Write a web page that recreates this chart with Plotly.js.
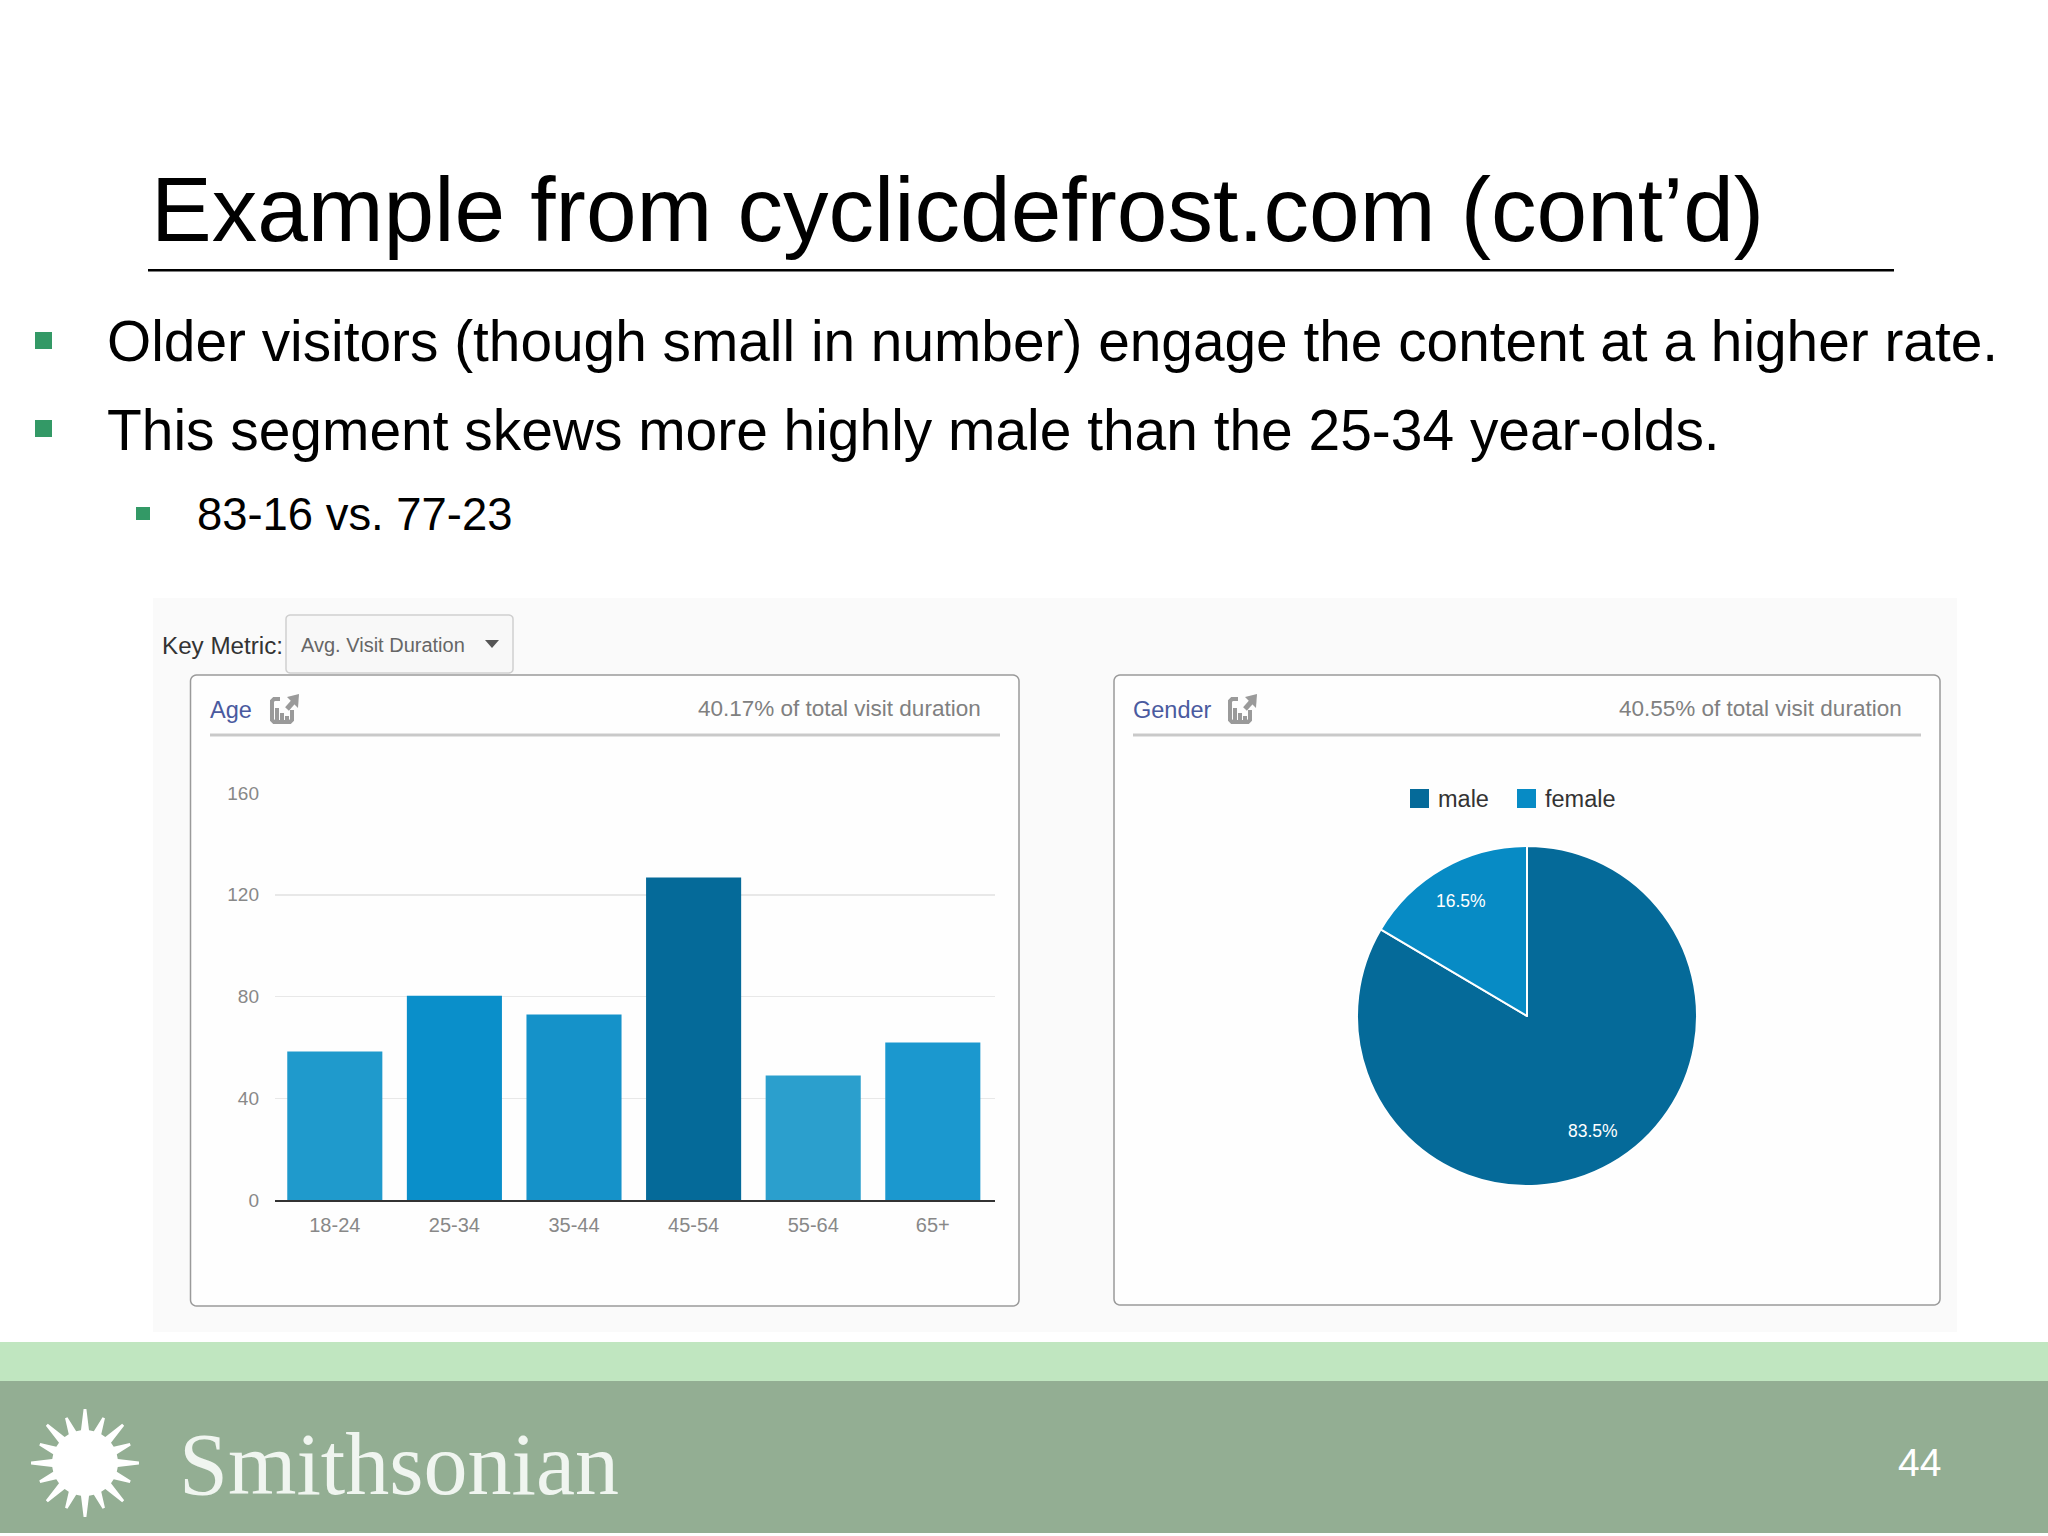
<!DOCTYPE html>
<html><head><meta charset="utf-8">
<script src="https://cdn.plot.ly/plotly-3.0.1.min.js"></script>
<style>html,body{margin:0;padding:0;background:#fff}#c{width:2048px;height:1536px}</style>
</head><body><div id="c"></div>
<script>
const ageCategories = ["18-24","25-34","35-44","45-54","55-64","65+"];
const ageValues = [58.4,80.3,73,126.8,49,62];
const ageColors = ["#1f9acc","#0a8fca","#1592c9","#056a99","#2b9fcd","#1b98cf"];
const ageTicks = [0,40,80,120,160];
const genderLabels = ["male","female"];
const genderValues = [83.5,16.5];
const genderColors = ["#056a99","#078bc5"];

const W=2048,H=1536;
const SANS='"Liberation Sans", Arial, sans-serif';
const px=x=>x/W, py=y=>1-y/H;
function txt(text,x,y,size,color,anchor,font,va){
  return {text,x:px(x),y:py(y),xref:'paper',yref:'paper',xanchor:anchor||'left',yanchor:va||'middle',
    showarrow:false,font:{family:font||SANS,size,color},align:anchor||'left',borderpad:0,borderwidth:0,xshift:0,yshift:0};
}
function rect(x0,y0,x1,y1,fill,line,lw){
  return {type:'rect',xref:'paper',yref:'paper',layer:'below',x0:px(x0),x1:px(x1),y0:py(y0),y1:py(y1),
    fillcolor:fill,line:{color:line||fill,width:lw===undefined?0:lw}};
}
function path(d,fill,line,lw){
  return {type:'path',xref:'paper',yref:'paper',layer:'below',path:d,fillcolor:fill,line:{color:line||fill,width:lw||0}};
}
function P(pts,close){
  return pts.map((p,i)=>(i?'L':'M')+px(p[0]).toFixed(5)+','+py(p[1]).toFixed(5)).join(' ')+(close?' Z':'');
}
function roundRect(x0,y0,x1,y1,r,fill,line,lw){
  const pts=[];
  const corner=(cx,cy,a0)=>{for(let k=0;k<=6;k++){const a=(a0+k*15)*Math.PI/180;pts.push([cx+r*Math.cos(a),cy+r*Math.sin(a)]);}};
  corner(x1-r,y0+r,-90);corner(x1-r,y1-r,0);corner(x0+r,y1-r,90);corner(x0+r,y0+r,180);
  return path(P(pts,true),fill,line,lw);
}
function sun(cx,cy){
  const spikes=16,pts=[],step=360/spikes,core=33,d=Math.PI/180;
  for(let i=0;i<spikes;i++){
    const a=i*step,tip=(i%2===0)?54:49;
    pts.push([cx+core*Math.cos((a-7)*d),cy+core*Math.sin((a-7)*d)]);
    pts.push([cx+tip*Math.cos((a-1.5)*d),cy+tip*Math.sin((a-1.5)*d)]);
    pts.push([cx+tip*Math.cos((a+1.5)*d),cy+tip*Math.sin((a+1.5)*d)]);
    pts.push([cx+core*Math.cos((a+7)*d),cy+core*Math.sin((a+7)*d)]);
  }
  return path(P(pts,true),'#ffffff');
}
function icon(x,y){
  const c='#9a9a9a',n='rgba(0,0,0,0)';
  return [
    path(P([[x+20,y+14],[x+14,y+14],[x+12,y+16],[x+12,y+35],[x+14,y+37],[x+30,y+37],[x+32,y+35],[x+32,y+25]]),n,c,4),
    path(P([[x+17,y+35],[x+17,y+23]]),n,c,4),
    path(P([[x+22,y+35],[x+22,y+28]]),n,c,4),
    path(P([[x+27,y+35],[x+27,y+31]]),n,c,4),
    path(P([[x+27,y+24],[x+34,y+16]]),n,c,5),
    path(P([[x+27,y+12],[x+39,y+9],[x+38,y+23]],true),c)
  ];
}

const pieCx=1527,pieCy=1016,pieR=170;
const total=genderValues.reduce((a,b)=>a+b,0);
let acc=0;
const pieLabels=genderValues.map(v=>{
  const mid=(acc+v/2)/total*2*Math.PI; acc+=v;
  return txt(v+'%',pieCx+0.78*pieR*Math.sin(mid),pieCy-0.78*pieR*Math.cos(mid),17.5,'#ffffff','center');
});
const legendSquareX=[1410,1517], legendTextX=[1438,1545];
const legendShapes=genderLabels.map((l,i)=>rect(legendSquareX[i],789,legendSquareX[i]+19,808,genderColors[i]));
const legendText=genderLabels.map((l,i)=>txt(l,legendTextX[i],799,23.5,'#333333'));

const shapes=[
  rect(153,598,1957,1332,'#fafafa'),
  roundRect(190.5,675,1019,1306,6,'#fefefe','#9a9a9a',1.5),
  roundRect(1114,675,1940,1305,6,'#fefefe','#9a9a9a',1.5),
  rect(210,733.5,1000,736.5,'#c9c9c9'),
  rect(1133,733.5,1921,736.5,'#c9c9c9'),
  roundRect(286,615,513,673,4,'#f8f8f8','#cfcfcf',1.5),
  path(P([[485,640],[499,640],[492,648]],true),'#555555'),
  ...icon(260,685),
  ...icon(1218,685),
  ...legendShapes,
  rect(0,1342,W,1381,'#c0e6c0'),
  rect(0,1381,W,1533,'#93ae93'),
  sun(85,1463),
  rect(148,269,1894,271.5,'#000000'),
  rect(35,332,52,349,'#339966'),
  rect(35,420,52,437,'#339966'),
  rect(136,507,150,520,'#339966')
];

const annotations=[
  txt('Example from cyclicdefrost.com (cont’d)',151,209,91,'#000000'),
  txt('Older visitors (though small in number) engage the content at a higher rate.',107,341,56.8,'#000000'),
  txt('This segment skews more highly male than the 25-34 year-olds.',107,430,56.9,'#000000'),
  txt('83-16 vs. 77-23',197,514,45.4,'#000000'),
  txt('Key Metric:',162,645,24.2,'#333333'),
  txt('Avg. Visit Duration',301,645,20,'#666666'),
  txt('Age',210,710,23.5,'#4a5a9f'),
  txt('40.17% of total visit duration',981,708,22.5,'#808080','right'),
  txt('Gender',1133,710,23.5,'#4a5a9f'),
  txt('40.55% of total visit duration',1902,708,22.5,'#808080','right'),
  txt('Smithsonian',179,1464,88,'#f0f5f0','left','"Liberation Serif", serif'),
  txt('44',1941,1462,39,'#ffffff','right'),
  ...pieLabels,
  ...legendText
];

const data=[
  {type:'bar',x:ageCategories,y:ageValues,marker:{color:ageColors,line:{width:0}},showlegend:false,hoverinfo:'x+y',xaxis:'x',yaxis:'y'},
  {type:'pie',labels:genderLabels,values:genderValues,sort:false,direction:'clockwise',rotation:0,
   marker:{colors:genderColors,line:{color:'#ffffff',width:2}},
   domain:{x:[px(pieCx-pieR),px(pieCx+pieR)],y:[py(pieCy+pieR),py(pieCy-pieR)]},
   textinfo:'none',showlegend:false}
];

const layout={
  width:W,height:H,margin:{l:0,r:0,t:0,b:0,pad:0},paper_bgcolor:'#ffffff',plot_bgcolor:'rgba(0,0,0,0)',
  font:{family:SANS},bargap:0.205,showlegend:false,
  xaxis:{domain:[px(275),px(995)],type:'category',categoryorder:'array',categoryarray:ageCategories,range:[-0.5,5.52],
    showgrid:false,zeroline:false,showline:true,linecolor:'#333333',linewidth:1.5,ticks:'',
    tickfont:{family:SANS,size:20,color:'#888888'},ticklabelstandoff:6,anchor:'y'},
  yaxis:{domain:[py(1200.2),py(792.5)],range:[0,160.2],tickmode:'array',tickvals:ageTicks,
    showgrid:true,gridcolor:'#e8e8e8',gridwidth:1.5,zeroline:false,showline:false,ticks:'',
    tickfont:{family:SANS,size:19,color:'#888888'},ticklabelstandoff:15,anchor:'x'},
  shapes,annotations
};
Plotly.newPlot('c',data,layout,{displayModeBar:false,staticPlot:true});
</script></body></html>
